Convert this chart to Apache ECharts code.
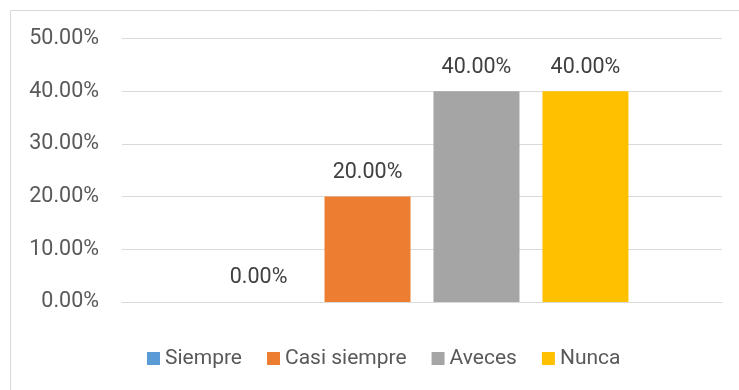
<!DOCTYPE html>
<html><head><meta charset="utf-8">
<script src="https://cdn.jsdelivr.net/npm/echarts@6/dist/echarts.min.js"></script>
<style>html,body{margin:0;padding:0;background:#fff}#c{width:739px;height:390px}</style>
</head><body><div id="c"></div>
<script>
const categories = [''];
const seriesNames = ['Siempre', 'Casi siempre', 'Aveces', 'Nunca'];
const seriesValues = [[0], [0.20], [0.40], [0.40]];
const seriesColors = ['#5B9BD5', '#ED7D31', '#A5A5A5', '#FFC000'];
const yTicks = [0, 0.1, 0.2, 0.3, 0.4, 0.5];

const font = 'Roboto';
const chart = echarts.init(document.getElementById('c'), null, {renderer: 'canvas'});
chart.setOption({
  animation: false,
  backgroundColor: '#fff',
  textStyle: {fontFamily: font},
  graphic: [{type: 'rect', shape: {x: 10.5, y: 10.5, width: 740, height: 390}, style: {fill: 'none', stroke: '#d9d9d9', lineWidth: 1}}],
  grid: {left: 122, right: 17, top: 38.5, bottom: 88, containLabel: false},
  legend: {
    data: seriesNames, top: 343, left: 142, itemWidth: 13, itemHeight: 13, itemGap: 25,
    icon: 'rect',
    textStyle: {color: '#595959', fontSize: 21, fontFamily: font, padding: [0, 0, 0, 0]}
  },
  xAxis: {type: 'category', data: categories, axisLine: {show: true, lineStyle: {color: '#d9d9d9', width: 1}}, axisTick: {show: false}, axisLabel: {show: false}},
  yAxis: {
    type: 'value', min: yTicks[0], max: yTicks[yTicks.length - 1], interval: 0.1,
    axisLine: {show: false}, axisTick: {show: false},
    splitLine: {lineStyle: {color: '#d9d9d9', width: 1}},
    axisLabel: {color: '#595959', fontSize: 21.5, fontFamily: font, margin: 23, formatter: v => (v * 100).toFixed(2) + '%'}
  },
  series: seriesNames.map((n, i) => ({
    name: n, type: 'bar', data: seriesValues[i], barWidth: 86, barGap: '26.7%',
    itemStyle: {color: seriesColors[i]},
    label: {show: true, position: 'top', distance: 13, color: '#404040', fontSize: 21.5, fontFamily: font, formatter: p => (p.value * 100).toFixed(2) + '%'}
  }))
});
</script></body></html>
